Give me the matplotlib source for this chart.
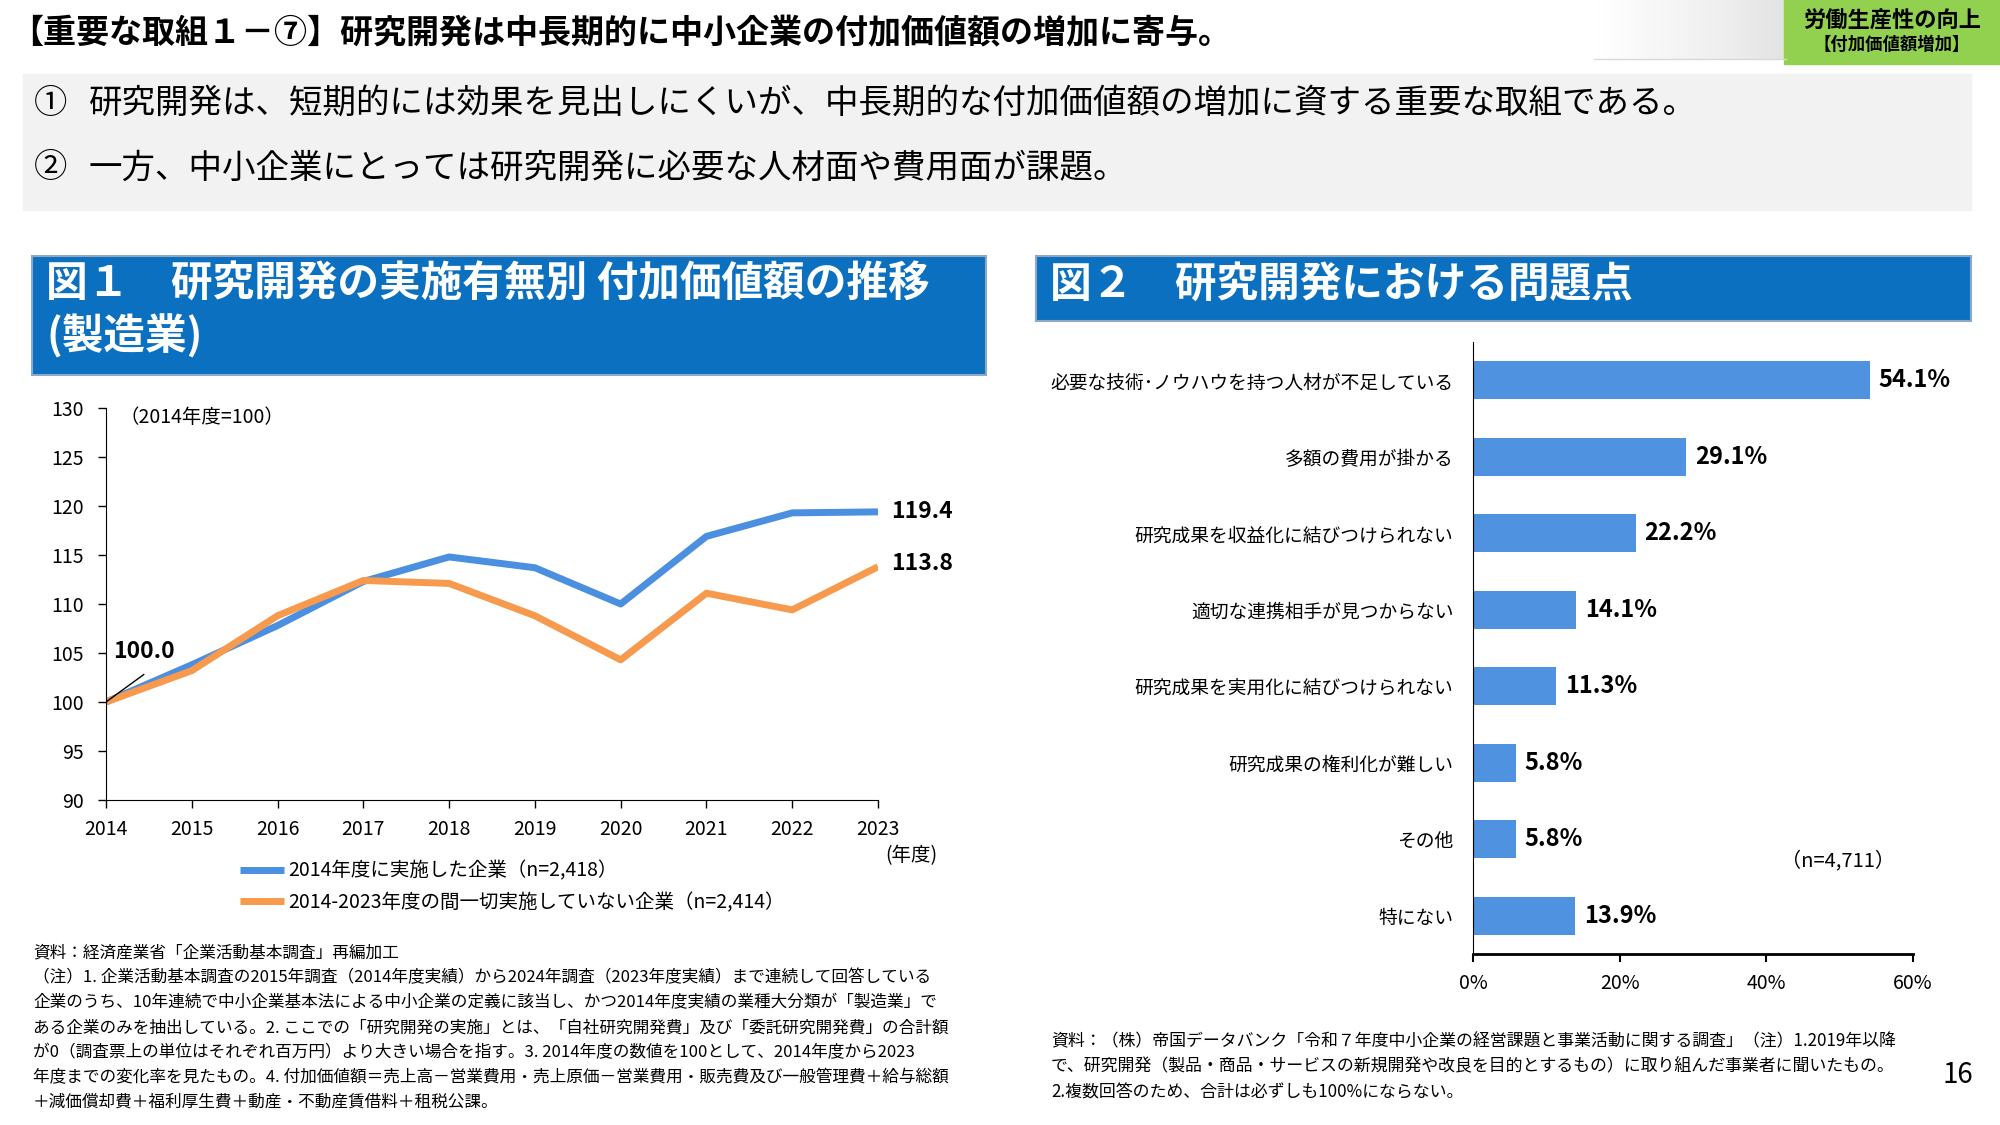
import numpy as np
import matplotlib
matplotlib.use("Agg")
import matplotlib.pyplot as plt
from matplotlib.patches import Rectangle

plt.rcParams['font.family'] = ['Noto Sans CJK JP', 'DejaVu Sans']

# データ
years = [2014, 2015, 2016, 2017, 2018, 2019, 2020, 2021, 2022, 2023]
rd_firms = [100.0, 103.8, 107.8, 112.3, 114.8, 113.7, 110.0, 116.9, 119.3, 119.4]
no_rd_firms = [100.0, 103.2, 108.8, 112.4, 112.1, 108.8, 104.3, 111.1, 109.4, 113.8]
label_rd = "2014年度に実施した企業（n=2,418）"
label_no_rd = "2014-2023年度の間一切実施していない企業（n=2,414）"

problems = ["必要な技術･ノウハウを持つ人材が不足している", "多額の費用が掛かる",
            "研究成果を収益化に結びつけられない", "適切な連携相手が見つからない",
            "研究成果を実用化に結びつけられない", "研究成果の権利化が難しい",
            "その他", "特にない"]
shares = [54.1, 29.1, 22.2, 14.1, 11.3, 5.8, 5.8, 13.9]

W, H = 2000, 1125
fig = plt.figure(figsize=(20, 11.25), dpi=100)

def rect(l, t, r, b):
    # ピクセル座標 -> figure 座標
    return [l / W, 1 - b / H, (r - l) / W, (b - t) / H]

# 背景用のオーバーレイ
bg = fig.add_axes([0, 0, 1, 1], zorder=0)
bg.axis("off")

# タイトル
bg.text(10, 34, "【重要な取組１－⑦】研究開発は中長期的に中小企業の付加価値額の増加に寄与。",
        fontsize=23.8, fontweight="bold", va="center", ha="left")

# 右上のバッジ
grad = np.linspace(0.0, 0.2, 256).reshape(1, -1)
bg.imshow(grad, extent=[1594, 1786, 59, 0], cmap="Greys", vmin=0, vmax=1, aspect="auto")
bg.plot([1594, 1786], [59, 59], color="#d8d8d8", lw=1)
bg.add_patch(Rectangle((1784, 0), 216, 64, color="#92d050"))
bg.text(1892, 21, "労働生産性の向上", fontsize=16, fontweight="bold", ha="center", va="center")
bg.text(1892, 45, "【付加価値額増加】", fontsize=12.5, fontweight="bold", ha="center", va="center")
bg.set_xlim(0, W)
bg.set_ylim(H, 0)

# 要点ボックス
bg.add_patch(Rectangle((23, 74), 1948, 136, color="#f2f2f2"))
points = ["研究開発は、短期的には効果を見出しにくいが、中長期的な付加価値額の増加に資する重要な取組である。",
          "一方、中小企業にとっては研究開発に必要な人材面や費用面が課題。"]
for i, (mark, s) in enumerate(zip(["①", "②"], points)):
    y = 103 + i * 65
    bg.text(34, y, mark, fontsize=24, va="center")
    bg.text(89, y, s, fontsize=24.1, va="center")

# 図の見出し
blue = "#0b70c0"
bg.add_patch(Rectangle((32, 256), 954, 119, facecolor=blue, edgecolor="#8fa9c4", lw=1.5))
bg.text(46, 285, "図１　研究開発の実施有無別 付加価値額の推移", fontsize=30, fontweight="bold",
        color="white", va="center")
bg.text(46, 336, "(製造業)", fontsize=30, fontweight="bold", color="white", va="center")
bg.add_patch(Rectangle((1036, 256), 935, 65, facecolor=blue, edgecolor="#8fa9c4", lw=1.5))
bg.text(1050, 285, "図２　研究開発における問題点", fontsize=30, fontweight="bold",
        color="white", va="center")

# 図１の注記
notes1 = [
    "資料：経済産業省「企業活動基本調査」再編加工",
    "（注）1. 企業活動基本調査の2015年調査（2014年度実績）から2024年調査（2023年度実績）まで連続して回答している",
    "企業のうち、10年連続で中小企業基本法による中小企業の定義に該当し、かつ2014年度実績の業種大分類が「製造業」で",
    "ある企業のみを抽出している。2. ここでの「研究開発の実施」とは、「自社研究開発費」及び「委託研究開発費」の合計額",
    "が0（調査票上の単位はそれぞれ百万円）より大きい場合を指す。3. 2014年度の数値を100として、2014年度から2023",
    "年度までの変化率を見たもの。4. 付加価値額＝売上高－営業費用・売上原価－営業費用・販売費及び一般管理費＋給与総額",
    "＋減価償却費＋福利厚生費＋動産・不動産賃借料＋租税公課。",
]
for i, s in enumerate(notes1):
    bg.text(33, 953 + i * 24.9, s, fontsize=12.0, va="center")

notes2 = [
    "資料：（株）帝国データバンク「令和７年度中小企業の経営課題と事業活動に関する調査」（注）1.2019年以降",
    "で、研究開発（製品・商品・サービスの新規開発や改良を目的とするもの）に取り組んだ事業者に聞いたもの。",
    "2.複数回答のため、合計は必ずしも100%にならない。",
]
for i, s in enumerate(notes2):
    bg.text(1051, 1041 + i * 25.5, s, fontsize=12.2, va="center")

bg.text(1958, 1075, "16", fontsize=20, ha="center", va="center")

# 図１：折れ線
c_blue = "#4a8fe0"
c_orange = "#f79a4d"
ax1 = fig.add_axes(rect(106, 408, 878, 800), zorder=1)
ax1.patch.set_alpha(0)
ax1.plot(years, rd_firms, color=c_blue, lw=5, solid_capstyle="butt", label=label_rd)
ax1.plot(years, no_rd_firms, color=c_orange, lw=5, solid_capstyle="butt", label=label_no_rd)
ax1.set_xlim(2014, 2023)
ax1.set_ylim(90, 130)
ax1.set_xticks(years)
ax1.set_yticks(range(90, 131, 5))
ax1.tick_params(axis="both", labelsize=14, length=6, width=1)
ax1.tick_params(axis="x", pad=8)
ax1.tick_params(axis="y", pad=10)
for sp in ["top", "right"]:
    ax1.spines[sp].set_visible(False)
ax1.text(0.018, 0.975, "（2014年度=100）", transform=ax1.transAxes, fontsize=14, va="center")
ax1.text(2023.15, rd_firms[-1], f"{rd_firms[-1]:.1f}", fontsize=16.5, fontweight="bold", va="center")
ax1.text(2023.15, no_rd_firms[-1] + 0.3, f"{no_rd_firms[-1]:.1f}", fontsize=16.5, fontweight="bold", va="center")
ax1.plot([years[0], 2014.44], [rd_firms[0], 102.8], color="black", lw=1)
ax1.text(2014.08, 105.2, f"{rd_firms[0]:.1f}", fontsize=16.5, fontweight="bold", va="center")
bg.text(911, 856, "(年度)", fontsize=14, ha="center", va="center")
fig.legend(loc="upper left", bbox_to_anchor=(222 / W, 1 - 843 / H), frameon=False,
           fontsize=14, handlelength=2.3, handletextpad=0.2, labelspacing=0.55)

# 図２：横棒
c_bar = "#4f93e0"
ax2 = fig.add_axes(rect(1473, 342, 1913, 954), zorder=1)
ax2.patch.set_alpha(0)
pos = np.arange(len(problems))
ax2.barh(pos, shares, height=0.5, color=c_bar)
ax2.set_ylim(len(problems) - 0.5, -0.5)
ax2.set_xlim(0, 60)
ax2.set_xticks([0, 20, 40, 60])
ax2.set_xticklabels(["0%", "20%", "40%", "60%"])
ax2.set_yticks(pos)
ax2.set_yticklabels(problems)
ax2.tick_params(axis="y", length=0, labelsize=13.5, pad=14)
ax2.tick_params(axis="x", labelsize=14, length=6, width=1.5, pad=8)
ax2.spines["bottom"].set_linewidth(2)
for sp in ["top", "right"]:
    ax2.spines[sp].set_visible(False)
for p, v in zip(pos, shares):
    ax2.text(v + 1.2, p, f"{v:.1f}%", fontsize=17, fontweight="bold", va="center")
bg.text(1838, 861, "（n=4,711）", fontsize=14.5, ha="center", va="center")

fig.savefig("out.png", dpi=100)
